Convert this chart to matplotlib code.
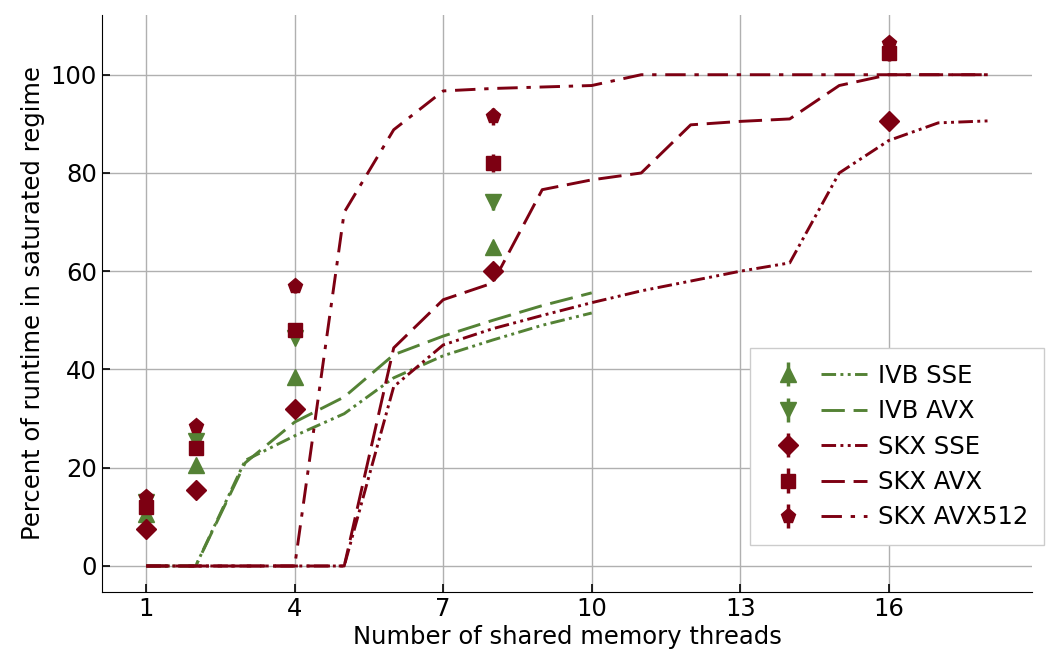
import matplotlib

matplotlib.use("Agg")
import matplotlib.pyplot as plt
from matplotlib.legend_handler import HandlerTuple

GREEN = "#548235"
RED = "#7d0012"

# measured points (threads, percent)
meas_threads_ivb = [1, 2, 4, 8]
meas_threads_skx = [1, 2, 4, 8, 16]
ivb_sse_meas = [10.5, 20.5, 38.5, 65.0]
ivb_avx_meas = [13.0, 25.5, 46.5, 74.0]
skx_sse_meas = [7.5, 15.5, 32.0, 60.0, 90.5]
skx_avx_meas = [12.0, 24.0, 48.0, 82.0, 104.5]
skx_avx512_meas = [14.0, 28.5, 57.0, 91.5, 106.5]
ivb_sse_err = [0.8, 0.8, 0.8, 1.0]
ivb_avx_err = [0.8, 0.8, 1.2, 1.5]
skx_sse_err = [0.6, 0.6, 0.8, 1.0, 0.8]
skx_avx_err = [1.2, 1.2, 1.5, 1.8, 1.8]
skx_avx512_err = [0.8, 0.8, 1.5, 1.8, 1.2]

# model predictions
model_threads_ivb = list(range(1, 11))
model_threads_skx = list(range(1, 19))
ivb_sse_model = [0, 0, 21.5, 26.5, 31.0, 38.3, 42.8, 46.0, 49.0, 51.5]
ivb_avx_model = [0, 0, 21.0, 29.3, 34.4, 43.0, 46.8, 50.0, 53.0, 55.6]
skx_sse_model = [0, 0, 0, 0, 0, 36.5, 45.0, 48.3, 51.0, 53.6, 56.0, 58.0,
                 60.0, 61.7, 80.0, 86.6, 90.2, 90.6]
skx_avx_model = [0, 0, 0, 0, 0, 44.4, 54.2, 57.6, 76.6, 78.6, 80.0, 89.8,
                 90.5, 91.0, 97.8, 100, 100, 100]
skx_avx512_model = [0, 0, 0, 0, 72.0, 88.8, 96.7, 97.2, 97.5, 97.8, 100, 100,
                    100, 100, 100, 100, 100, 100]

labels = ["IVB SSE", "IVB AVX", "SKX SSE", "SKX AVX", "SKX AVX512"]

DASH_DOT_DOT = (0, (5, 1.5, 1, 1.5, 1, 1.5))
LONG_DASH = (0, (8, 3))
DASH_DOT = (0, (7, 3, 1.5, 3))

fig = plt.figure(figsize=(10.48, 6.72), dpi=100)
ax = fig.add_axes([0.097, 0.119, 0.888, 0.859])

series = [
    (meas_threads_ivb, ivb_sse_meas, ivb_sse_err, model_threads_ivb, ivb_sse_model,
     GREEN, "^", 11, DASH_DOT_DOT),
    (meas_threads_ivb, ivb_avx_meas, ivb_avx_err, model_threads_ivb, ivb_avx_model,
     GREEN, "v", 11, LONG_DASH),
    (meas_threads_skx, skx_sse_meas, skx_sse_err, model_threads_skx, skx_sse_model,
     RED, "D", 10, DASH_DOT_DOT),
    (meas_threads_skx, skx_avx_meas, skx_avx_err, model_threads_skx, skx_avx_model,
     RED, "s", 10, LONG_DASH),
    (meas_threads_skx, skx_avx512_meas, skx_avx512_err, model_threads_skx,
     skx_avx512_model, RED, "p", 11, DASH_DOT),
]

handles = []
for mx, my, me, lx, ly, col, mk, ms, ls in series:
    line, = ax.plot(lx, ly, color=col, linestyle=ls, linewidth=2.1, zorder=2)
    eb = ax.errorbar(mx, my, yerr=me, fmt=mk, color=col, markersize=ms,
                     elinewidth=2.5, capsize=0, zorder=3)
    handles.append((eb, line))

ax.set_xlim(0.1, 18.9)
ax.set_ylim(-5.3, 112.2)
ax.set_xticks([1, 4, 7, 10, 13, 16])
ax.set_yticks([0, 20, 40, 60, 80, 100])
ax.grid(True, color="#b0b0b0", linewidth=1)
ax.set_axisbelow(True)
for side in ("top", "right"):
    ax.spines[side].set_visible(False)
ax.tick_params(direction="in", length=6, width=1.2, labelsize=17.5)
ax.set_xlabel("Number of shared memory threads", fontsize=17.5, labelpad=3)
ax.set_ylabel("Percent of runtime in saturated regime", fontsize=17.5)

leg = ax.legend(handles, labels, handler_map={tuple: HandlerTuple(ndivide=None, pad=0.4)},
                loc="lower right", bbox_to_anchor=(1.013, 0.081), borderaxespad=0,
                fontsize=17.5, handlelength=4.2, handletextpad=0.45,
                fancybox=False, framealpha=1, edgecolor="#cccccc",
                labelspacing=0.47, borderpad=0.65)

fig.savefig("out.png", dpi=100)
